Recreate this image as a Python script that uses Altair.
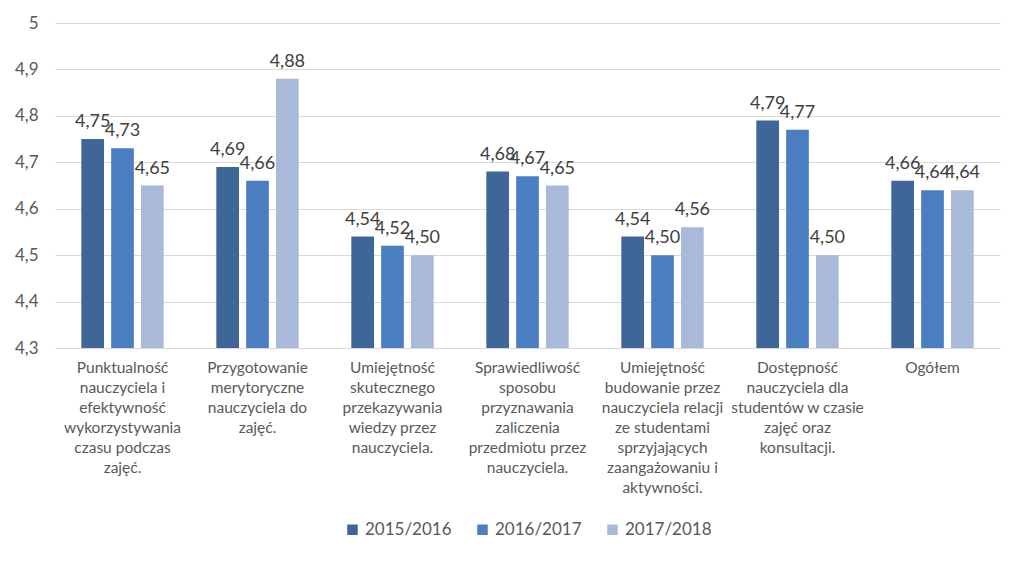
import altair as alt
import pandas as pd

categories = [
    "Punktualność\nnauczyciela i\nefektywność\nwykorzystywania\nczasu podczas\nzajęć.",
    "Przygotowanie\nmerytoryczne\nnauczyciela do\nzajęć.",
    "Umiejętność\nskutecznego\nprzekazywania\nwiedzy przez\nnauczyciela.",
    "Sprawiedliwość\nsposobu\nprzyznawania\nzaliczenia\nprzedmiotu przez\nnauczyciela.",
    "Umiejętność\nbudowanie przez\nnauczyciela relacji\nze studentami\nsprzyjających\nzaangażowaniu i\naktywności.",
    "Dostępność\nnauczyciela dla\nstudentów w czasie\nzajęć oraz\nkonsultacji.",
    "Ogółem",
]
series = ["2015/2016", "2016/2017", "2017/2018"]
v2015 = [4.75, 4.69, 4.54, 4.68, 4.54, 4.79, 4.66]
v2016 = [4.73, 4.66, 4.52, 4.67, 4.50, 4.77, 4.64]
v2017 = [4.65, 4.88, 4.50, 4.65, 4.56, 4.50, 4.64]
colors = ["#3E6699", "#4A7EC0", "#A8B9DA"]

rows = []
for s, vals in zip(series, [v2015, v2016, v2017]):
    for c, v in zip(categories, vals):
        rows.append({"cat": c, "series": s, "value": v})
df = pd.DataFrame(rows)

font = "Lato"
xenc = alt.X(
    "cat:N",
    sort=categories,
    scale=alt.Scale(paddingInner=0.39, paddingOuter=0.195),
    axis=alt.Axis(
        title=None,
        labelAngle=0,
        labelExpr="split(datum.label, '\\n')",
        labelFont=font,
        labelFontSize=15.5,
        labelLineHeight=20,
        labelColor="#595959",
        labelPadding=12,
        labelLimit=200,
        ticks=False,
        domainColor="#d9d9d9",
        domainWidth=1,
        grid=False,
        labelBaseline="top",
    ),
)
xoff = alt.XOffset(
    "series:N",
    sort=series,
    scale=alt.Scale(paddingInner=0.24, paddingOuter=0),
)
yenc = alt.Y(
    "value:Q",
    scale=alt.Scale(domain=[4.3, 5.0], zero=False, nice=False, clamp=True),
    axis=alt.Axis(
        title=None,
        values=[4.3, 4.4, 4.5, 4.6, 4.7, 4.8, 4.9, 5.0],
        labelExpr="replace(format(datum.value, '.1~f'), '.', ',')",
        labelFont=font,
        labelFontSize=17,
        labelColor="#595959",
        labelPadding=17,
        ticks=False,
        domain=False,
        gridColor="#d9d9d9",
        gridWidth=1,
    ),
)

bars = alt.Chart(df).mark_bar().encode(
    x=xenc,
    xOffset=xoff,
    y=yenc,
    y2=alt.datum(4.3),
    color=alt.Color(
        "series:N",
        sort=series,
        scale=alt.Scale(domain=series, range=colors),
        legend=alt.Legend(
            title=None,
            orient="none",
            legendX=289,
            legendY=498,
            direction="horizontal",
            symbolType="square",
            symbolSize=110,
            symbolStrokeWidth=0,
            labelFont=font,
            labelFontSize=17,
            labelColor="#595959",
            columnPadding=22,
            labelOffset=4,
        ),
    ),
)

labels = alt.Chart(df).transform_calculate(
    lbl="replace(format(datum.value, '.2f'), '.', ',')"
).mark_text(
    baseline="alphabetic", dy=-12, font=font, fontSize=18, color="#404040"
).encode(
    x=alt.X("cat:N", sort=categories),
    xOffset=alt.XOffset("series:N", sort=series),
    y=alt.Y("value:Q"),
    text="lbl:N",
)

chart = (
    alt.layer(bars, labels)
    .properties(
        width=945,
        height=325,
        autosize=alt.AutoSizeParams(type="none"),
        padding={"left": 47, "top": 15, "right": 16, "bottom": 200},
        background="white",
    )
    .configure_view(stroke=None)
)

chart.save("out.html", embed_options={"renderer": "svg", "actions": False})
